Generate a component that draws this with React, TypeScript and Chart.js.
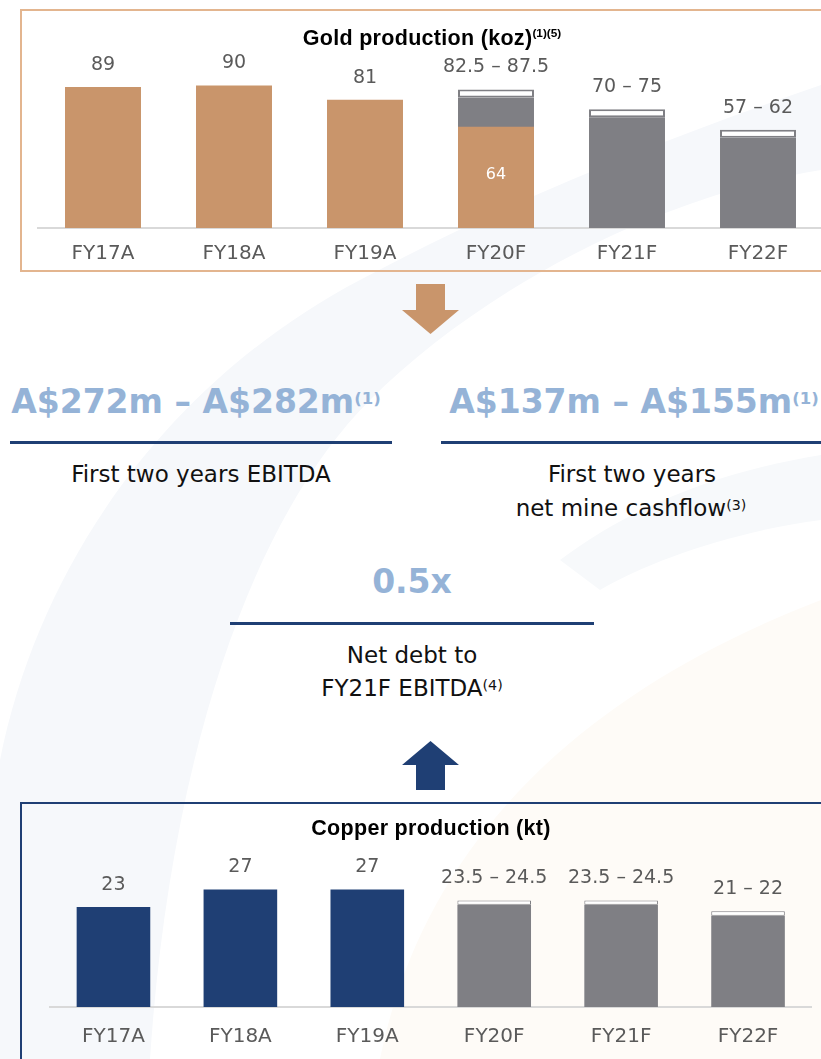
import React, { useEffect, useRef } from "react";
import { Chart, registerables } from "chart.js";

Chart.register(...registerables);

// ---------- data ----------
const categories = ["FY17A", "FY18A", "FY19A", "FY20F", "FY21F", "FY22F"];

const goldActual = [89, 90, 81, 64, null, null];
const goldForecastLow = [null, null, null, 82.5, 70, 57];
const goldForecastHigh = [null, null, null, 87.5, 75, 62];
const goldLabels = ["89", "90", "81", "82.5 – 87.5", "70 – 75", "57 – 62"];
const goldInnerLabels = [null, null, null, "64", null, null];

const copperActual = [23, 27, 27, null, null, null];
const copperForecastLow = [null, null, null, 23.5, 23.5, 21];
const copperForecastHigh = [null, null, null, 24.5, 24.5, 22];
const copperLabels = ["23", "27", "27", "23.5 – 24.5", "23.5 – 24.5", "21 – 22"];

// ---------- styles ----------
const TAN = "#c9956b";
const GREY = "#7f7f84";
const NAVY = "#1f3f74";
const LIGHT_BLUE = "#95b3d7";
const LABEL = "#5a5a5a";
const FONT = '"DejaVu Sans", sans-serif';
const TITLE_FONT = '"Liberation Sans", Arial, sans-serif';

type ChartProps = {
  top: number;
  width: number;
  height: number;
  padding: { left: number; right: number; top: number; bottom: number };
  yMax: number;
  tickPadding: number;
  actual: (number | null)[];
  low: (number | null)[];
  high: (number | null)[];
  actualColor: string;
  rangeBorder: number;
  labels: string[];
  inner?: (string | null)[];
  labelGap: number;
};

function ProductionChart(p: ChartProps) {
  const ref = useRef<HTMLCanvasElement | null>(null);
  useEffect(() => {
    if (!ref.current) return;
    const labelPlugin = {
      id: "valueLabels",
      afterDatasetsDraw(chart: any) {
        const ctx = chart.ctx;
        const xs = chart.scales.x;
        const ys = chart.scales.y;
        ctx.save();
        ctx.textAlign = "center";
        ctx.textBaseline = "middle";
        categories.forEach((_, i) => {
          const topVal = Math.max(p.actual[i] ?? 0, p.high[i] ?? 0);
          const x = xs.getPixelForValue(i);
          ctx.font = `19px ${FONT}`;
          ctx.fillStyle = LABEL;
          ctx.fillText(p.labels[i], x, ys.getPixelForValue(topVal) - p.labelGap);
          const inn = p.inner ? p.inner[i] : null;
          if (inn && p.actual[i] != null) {
            ctx.font = `16px ${FONT}`;
            ctx.fillStyle = "#ffffff";
            ctx.fillText(inn, x, ys.getPixelForValue((p.actual[i] as number) / 2) - 2);
          }
        });
        ctx.restore();
      },
    };
    const common = { grouped: false, barPercentage: 0.58, categoryPercentage: 1 };
    const chart = new Chart(ref.current, {
      type: "bar",
      data: {
        labels: categories,
        datasets: [
          {
            ...common,
            data: p.actual.map((v) => (v == null ? null : [0, v])) as any,
            backgroundColor: p.actualColor,
          },
          {
            ...common,
            data: p.low.map((v) => (v == null ? null : [0, v])) as any,
            backgroundColor: GREY,
          },
          {
            ...common,
            data: p.low.map((v, i) => (v == null ? null : [v, p.high[i] as number])) as any,
            backgroundColor: "#ffffff",
            borderColor: GREY,
            borderWidth: p.rangeBorder,
            borderSkipped: false,
          },
        ],
      },
      options: {
        responsive: false,
        animation: false,
        devicePixelRatio: 1,
        layout: { padding: p.padding },
        plugins: { legend: { display: false }, tooltip: { enabled: false }, title: { display: false } },
        scales: {
          x: {
            grid: { display: false, drawTicks: false },
            border: { display: true, color: "#d9d9d9", width: 2 },
            ticks: { color: LABEL, font: { family: FONT, size: 20 }, padding: p.tickPadding },
          },
          y: { display: false, min: 0, max: p.yMax },
        },
      } as any,
      plugins: [labelPlugin],
    });
    return () => chart.destroy();
  }, []);
  return (
    <canvas
      ref={ref}
      width={p.width}
      height={p.height}
      style={{ position: "absolute", left: 0, top: p.top, width: p.width, height: p.height }}
    />
  );
}

const abs = (extra: React.CSSProperties): React.CSSProperties => ({
  position: "absolute",
  whiteSpace: "nowrap",
  ...extra,
});

const centered = (x: number, y: number, size: number, extra: React.CSSProperties = {}): React.CSSProperties =>
  abs({
    left: x,
    top: y - size * 0.6,
    lineHeight: `${size * 1.2}px`,
    fontSize: size,
    transform: "translateX(-50%)",
    ...extra,
  });

const supStyle = (scale: number, raise: number, bold = false): React.CSSProperties => ({
  fontSize: `${scale}em`,
  position: "relative",
  top: `-${raise}em`,
  verticalAlign: "baseline",
  lineHeight: 0,
  fontWeight: bold ? "bold" : "normal",
  letterSpacing: 0,
});

function Background() {
  return (
    <svg style={abs({ left: 0, top: 0 })} width={821} height={1059}>
      <path
        d="M 0 1059 L 0 760 C 40 560 170 380 360 280 C 500 205 660 140 821 85 L 821 170 C 640 200 470 300 370 400 C 250 520 170 760 150 1059 Z"
        fill="#f6f8fb"
      />
      <path d="M 380 1059 C 420 860 560 700 821 600 L 821 1059 Z" fill="#fefbf7" />
      <path
        d="M 560 560 C 640 500 730 470 821 455 L 821 520 C 740 530 650 560 600 590 Z"
        fill="#f7f9fb"
      />
    </svg>
  );
}

export default function App() {
  return (
    <div
      style={{
        position: "absolute",
        left: 0,
        top: 0,
        width: 821,
        height: 1059,
        overflow: "hidden",
        background: "#ffffff",
        fontFamily: FONT,
      }}
    >
      <Background />

      {/* gold panel */}
      <div style={abs({ left: 20, top: 9, width: 840, height: 263, border: "2px solid #e3b58f", boxSizing: "border-box" })} />
      <ProductionChart
        top={0}
        width={830}
        height={280}
        padding={{ left: 37.5, right: 6.5, top: 38, bottom: 0 }}
        yMax={120}
        tickPadding={14}
        actual={goldActual}
        low={goldForecastLow}
        high={goldForecastHigh}
        actualColor={TAN}
        rangeBorder={2}
        labels={goldLabels}
        inner={goldInnerLabels}
        labelGap={22}
      />
      <div style={centered(432, 39, 21.5, { fontWeight: "bold", color: "#000", fontFamily: TITLE_FONT, letterSpacing: "0.3px" })}>
        Gold production (koz)<span style={supStyle(0.55, 0.7, true)}>(1)(5)</span>
      </div>

      {/* down arrow */}
      <svg style={abs({ left: 400, top: 282 })} width={62} height={56}>
        <polygon points="16,2 45,2 45,28 59,28 30.5,52 2,28 16,28" fill={TAN} />
      </svg>

      {/* headline numbers */}
      <div style={centered(196, 402, 33, { fontWeight: "bold", color: LIGHT_BLUE })}>
        A$272m – A$282m<span style={supStyle(0.5, 0.55, true)}>(1)</span>
      </div>
      <div style={centered(634, 402, 33, { fontWeight: "bold", color: LIGHT_BLUE })}>
        A$137m – A$155m<span style={supStyle(0.5, 0.55, true)}>(1)</span>
      </div>
      <div style={abs({ left: 10, top: 441, width: 382, height: 3, background: NAVY })} />
      <div style={abs({ left: 441, top: 441, width: 390, height: 3, background: NAVY })} />
      <div style={centered(201, 475, 23, { color: "#111" })}>First two years EBITDA</div>
      <div style={centered(632, 475, 23, { color: "#111" })}>First two years</div>
      <div style={centered(631, 509, 23, { color: "#111" })}>
        net mine cashflow<span style={supStyle(0.62, 0.45)}>(3)</span>
      </div>

      <div style={centered(412, 582, 33, { fontWeight: "bold", color: LIGHT_BLUE })}>0.5x</div>
      <div style={abs({ left: 230, top: 622, width: 364, height: 3, background: NAVY })} />
      <div style={centered(412, 656, 23, { color: "#111" })}>Net debt to</div>
      <div style={centered(412, 689, 23, { color: "#111" })}>
        FY21F EBITDA<span style={supStyle(0.62, 0.45)}>(4)</span>
      </div>

      {/* up arrow */}
      <svg style={abs({ left: 400, top: 739 })} width={62} height={54}>
        <polygon points="30.5,2 59,26 45,26 45,51 16,51 16,26 2,26" fill={NAVY} />
      </svg>

      {/* copper panel */}
      <div style={abs({ left: 20, top: 802, width: 840, height: 300, border: "2px solid " + NAVY, boxSizing: "border-box" })} />
      <ProductionChart
        top={790}
        width={830}
        height={290}
        padding={{ left: 50, right: 18.5, top: 43, bottom: 13 }}
        yMax={40}
        tickPadding={18}
        actual={copperActual}
        low={copperForecastLow}
        high={copperForecastHigh}
        actualColor={NAVY}
        rangeBorder={1}
        labels={copperLabels}
        labelGap={22}
      />
      <div style={centered(431, 829, 21.5, { fontWeight: "bold", color: "#000", fontFamily: TITLE_FONT, letterSpacing: "0.3px" })}>
        Copper production (kt)
      </div>
    </div>
  );
}
